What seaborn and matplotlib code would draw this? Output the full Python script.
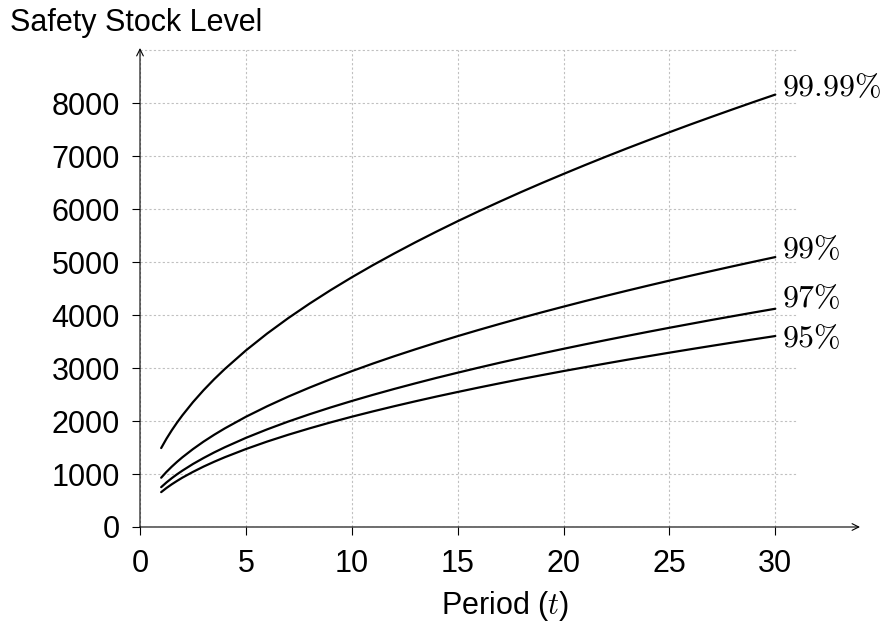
import numpy as np
import pandas as pd
import matplotlib
matplotlib.use('Agg')
import matplotlib.pyplot as plt
import seaborn as sns

# safety stock, per period t (finer steps near the start)
periods = [1, 1.25, 1.5, 1.75, 2, 2.5, 3, 3.5, 4, 5, 6, 7, 8, 9, 10,
           11, 12, 13, 14, 15, 16, 17, 18, 19, 20,
           21, 22, 23, 24, 25, 26, 27, 28, 29, 30]
ss_9999 = [1490, 1666, 1825, 1971, 2107, 2356, 2581, 2788, 2980, 3332, 3650, 3942, 4214, 4470, 4712,
           4942, 5161, 5372, 5575, 5771, 5960, 6143, 6322, 6495, 6663,
           6828, 6989, 7146, 7299, 7450, 7598, 7742, 7884, 8024, 8161]
ss_99 = [930, 1040, 1139, 1230, 1315, 1470, 1611, 1740, 1860, 2080, 2278, 2461, 2630, 2790, 2941,
         3085, 3222, 3353, 3480, 3602, 3720, 3834, 3946, 4054, 4159,
         4262, 4362, 4460, 4556, 4650, 4742, 4832, 4921, 5008, 5094]
ss_97 = [752, 841, 921, 995, 1063, 1189, 1302, 1407, 1504, 1682, 1842, 1990, 2127, 2256, 2378,
         2494, 2605, 2711, 2814, 2912, 3008, 3101, 3190, 3278, 3363,
         3446, 3527, 3606, 3684, 3760, 3834, 3908, 3979, 4050, 4119]
ss_95 = [658, 736, 806, 870, 931, 1040, 1140, 1231, 1316, 1471, 1612, 1741, 1861, 1974, 2081,
         2182, 2279, 2372, 2462, 2548, 2632, 2713, 2792, 2868, 2943,
         3015, 3086, 3156, 3223, 3290, 3355, 3419, 3482, 3543, 3604]
service_labels = [r'$99.99\%$', r'$99\%$', r'$97\%$', r'$95\%$']
# label nudges in points (layout only)
label_dy = [5, 5, 7, -2]

x_ticks = [0, 5, 10, 15, 20, 25, 30]
y_ticks = [0, 1000, 2000, 3000, 4000, 5000, 6000, 7000, 8000]

sns.set_theme(style='white')
plt.rcParams['font.family'] = ['Liberation Sans', 'DejaVu Sans']
plt.rcParams['mathtext.fontset'] = 'cm'
plt.rcParams['text.color'] = 'black'
plt.rcParams['xtick.color'] = 'black'
plt.rcParams['ytick.color'] = 'black'

series = [ss_9999, ss_99, ss_97, ss_95]
df = pd.concat([pd.DataFrame({'t': periods, 'ss': s, 'level': lab})
                for s, lab in zip(series, service_labels)])

fig = plt.figure(figsize=(8.85, 6.26), dpi=100)
ax = fig.add_axes([140 / 885, 1 - 527 / 626, 720 / 885, 479 / 626])

# grid (does not reach the arrow tips)
for xv in x_ticks:
    ax.plot([xv, xv], [0, 9000], color='#c0c0c0', lw=0.8, ls=(0, (2, 2)), zorder=1)
for yv in y_ticks + [9000]:
    ax.plot([0, 31], [yv, yv], color='#c0c0c0', lw=0.8, ls=(0, (2, 2)), zorder=1)

for lab in service_labels:
    sns.lineplot(data=df[df['level'] == lab], x='t', y='ss', color='black',
                 lw=1.6, ax=ax, zorder=3)

for s, lab, dy in zip(series, service_labels, label_dy):
    ax.annotate(lab, xy=(periods[-1], s[-1]), xytext=(5, dy),
                textcoords='offset points', ha='left', va='center', fontsize=23)

ax.set_xlim(0, 34)
ax.set_ylim(0, 9040)
for sp in ax.spines.values():
    sp.set_visible(False)
ax.annotate('', xy=(34, 0), xytext=(0, 0),
            arrowprops=dict(arrowstyle='->', lw=0.8, color='black', shrinkA=0, shrinkB=0))
ax.annotate('', xy=(0, 9040), xytext=(0, 0),
            arrowprops=dict(arrowstyle='->', lw=0.8, color='black', shrinkA=0, shrinkB=0))

ax.set_xticks(x_ticks)
ax.set_yticks(y_ticks)
ax.tick_params(axis='both', which='both', direction='out', length=5.5, width=0.8,
               color='black', labelsize=22, left=True, bottom=True)
ax.tick_params(axis='x', pad=10)
ax.tick_params(axis='y', pad=9)
ax.set_xlabel('')
ax.set_ylabel('')

fig.text(10 / 885, 1 - 23 / 626, 'Safety Stock Level', fontsize=22, ha='left', va='center')
fig.text(505 / 885, 1 - 606 / 626, r'Period ($t$)', fontsize=22, ha='center', va='center')

fig.savefig('out.png', dpi=100)
